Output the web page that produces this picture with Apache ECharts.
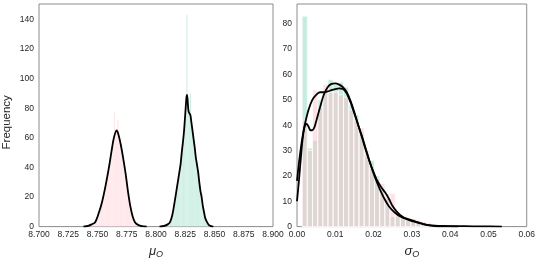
<!DOCTYPE html>
<html><head><meta charset="utf-8">
<script src="https://cdn.jsdelivr.net/npm/echarts@6/dist/echarts.min.js"></script>
<style>html,body{margin:0;padding:0;background:#fff}#c{width:538px;height:264px}</style>
</head><body><div id="c"></div>
<script>
// ---------- Left panel (mu_O) ----------
const muTicks = [8.700, 8.725, 8.750, 8.775, 8.800, 8.825, 8.850, 8.875, 8.900];
const muBinWidth = 0.001;
const muPinkBinStarts = [8.744,8.745,8.746,8.747,8.748,8.749,8.750,8.751,8.752,8.753,8.754,8.755,8.756,8.757,8.758,8.759,8.760,8.761,8.762,8.763,8.764,8.765,8.766,8.767,8.768,8.769,8.770,8.771,8.772,8.773,8.774,8.775,8.776,8.777,8.778,8.779,8.780,8.781,8.782,8.783,8.784,8.785];
const muPinkCounts    = [1,1,2,3,4,6,8,10,13,16,20,23,27,33,37,41,45,50,54,60,77,66,64,72,58,55,50,46,43,38,31,26,20,16,11,8,5,3,2,1,1,0.5];
const muGreenBinStarts = [8.809,8.810,8.811,8.812,8.813,8.814,8.815,8.816,8.817,8.818,8.819,8.820,8.821,8.822,8.823,8.824,8.825,8.826,8.827,8.828,8.829,8.830,8.831,8.832,8.833,8.834,8.835,8.836,8.837,8.838,8.839,8.840,8.841,8.842,8.843,8.844,8.845];
const muGreenCounts    = [1,2,2,4,6,9,13,18,23,29,34,39,46,53,60,70,80,143,82,76,90,70,63,58,51,45,40,34,28,22,18,13,9,6,4,2,1];
const muPinkKdeX = [8.738,8.742,8.745,8.748,8.751,8.754,8.757,8.760,8.762,8.764,8.7664,8.768,8.770,8.772,8.774,8.776,8.778,8.780,8.782,8.785,8.788,8.792];
const muPinkKdeY = [0,0.5,1.5,3,9,17,28,41,51,60,65,62,55,46,36,24,14,7,3,1,0.3,0];
const muGreenKdeX = [8.803,8.807,8.810,8.812,8.814,8.816,8.818,8.820,8.821,8.822,8.823,8.824,8.825,8.826,8.8265,8.827,8.8278,8.829,8.8295,8.830,8.831,8.832,8.833,8.834,8.835,8.836,8.837,8.838,8.839,8.840,8.841,8.842,8.843,8.844,8.845,8.847,8.849];
const muGreenKdeY = [0,0.5,1.5,3,8,17,27,37,42,50,57,65,76,87,89,86,78,76,75,72,66,60,54,47,42,37,30,24,20,14,10,6,4,2.5,1.2,0.3,0];

// ---------- Right panel (sigma_O) ----------
const sigTicks = [0.00, 0.01, 0.02, 0.03, 0.04, 0.05, 0.06];
const sigBinWidth = 0.00135;
const sigBinStarts = [0.00135,0.0027,0.00405,0.0054,0.00675,0.0081,0.00945,0.0108,0.01215,0.0135,0.01485,0.0162,0.01755,0.0189,0.02025,0.0216,0.02295,0.0243,0.02565,0.027,0.02835,0.0297,0.03105,0.0324,0.03375,0.0351];
const sigGreenCounts = [83,31,34,50,53,58,56,57,55,48,44,37,28,26,20,15,11,4,4,4,3,3,2,1.5,1,0.5];
const sigPinkCounts  = [42,30,54,47,56,53,53,52,51,46,42,39,30,23,19,17,13,13,5,4,3,3,2.5,2,1.5,1];
const sigGreenKdeX = [0,0.0005,0.001,0.0015,0.002,0.0025,0.003,0.0035,0.004,0.0045,0.005,0.006,0.007,0.008,0.009,0.010,0.011,0.012,0.013,0.014,0.015,0.016,0.017,0.018,0.019,0.020,0.021,0.022,0.023,0.024,0.025,0.026,0.027,0.028,0.029,0.030,0.031,0.032,0.033,0.034,0.036,0.038,0.042];
const sigGreenKdeY = [10,18,27,35,39.5,40.5,39.5,38,38,39,41.5,47,52,55,56.3,56.5,56,55,53,49.5,45,40,35,30,25.5,21.5,18,15.5,13.5,11,8,6,4.5,3.5,3,2.5,2,1.5,1,0.6,0.2,0.1,0];
const sigPinkKdeX = [0,0.0005,0.001,0.0015,0.002,0.003,0.004,0.005,0.006,0.007,0.008,0.009,0.010,0.011,0.012,0.013,0.014,0.015,0.016,0.017,0.018,0.019,0.020,0.021,0.022,0.023,0.024,0.025,0.026,0.027,0.028,0.029,0.030,0.031,0.032,0.033,0.034,0.036,0.038,0.040,0.044,0.048,0.0535];
const sigPinkKdeY = [18,25,31,36,40,46,50,52,53,53,53.3,53.8,54.2,54.5,54.3,52.5,49,44.5,40,35.5,30.5,25.5,21,17,13.5,10.5,8,6.3,5,4,3.3,2.7,2.2,1.8,1.4,1,0.7,0.4,0.25,0.2,0.15,0.1,0];

const PINK = 'rgba(255,185,196,0.42)';
const GREEN = 'rgba(102,205,170,0.38)';
const FONT = "'Liberation Sans', Arial, sans-serif";

function hist(starts, width, counts){ return starts.map((s,i)=>[s, s+width, counts[i]]); }
function pairs(xs, ys){ return xs.map((x,i)=>[x, ys[i]]); }
function histSeries(idx, data, fill, lw){
  return {type:'custom', xAxisIndex:idx, yAxisIndex:idx, z:2, silent:true,
    encode:{x:[0,1], y:2}, data:data,
    renderItem:function(params, api){
      const p0 = api.coord([api.value(0), api.value(2)]);
      const p1 = api.coord([api.value(1), 0]);
      return {type:'rect', shape:{x:p0[0], y:p0[1], width:p1[0]-p0[0], height:p1[1]-p0[1]},
        style:{fill:fill, stroke:'#ffffff', lineWidth:lw}};
    }};
}
function kde(idx, data){
  return {type:'line', xAxisIndex:idx, yAxisIndex:idx, z:3, data:data, showSymbol:false, smooth:0.3,
    lineStyle:{color:'#000', width:1.8}, silent:true};
}
function nameRich(){
  return {a:{fontSize:13, fontStyle:'italic', fontFamily:FONT, color:'#262626'},
          b:{fontSize:9, fontStyle:'italic', fontFamily:FONT, color:'#262626', padding:[7,0,0,0]}};
}
const lab = {fontSize:8.5, color:'#262626', fontFamily:FONT};
const chart = echarts.init(document.getElementById('c'), null, {renderer:'canvas'});
chart.setOption({
  animation:false,
  grid:[
    {left:34, top:4, width:239, height:232, show:true, borderColor:'#8c8c8c', borderWidth:1, backgroundColor:'transparent'},
    {left:297, top:4, width:237, height:232, show:true, borderColor:'#8c8c8c', borderWidth:1, backgroundColor:'transparent'}
  ],
  xAxis:[
    {type:'value', gridIndex:0, min:muTicks[0], max:muTicks[muTicks.length-1], interval:0.025,
     axisLine:{show:false}, axisTick:{show:false}, splitLine:{show:false},
     axisLabel:Object.assign({margin:4, formatter:v=>v.toFixed(3)}, lab),
     name:'{a|μ}{b|O}', nameLocation:'middle', nameGap:13, nameTextStyle:{rich:nameRich()}},
    {type:'value', gridIndex:1, min:sigTicks[0], max:sigTicks[sigTicks.length-1], interval:0.01,
     axisLine:{show:false}, axisTick:{show:false}, splitLine:{show:false},
     axisLabel:Object.assign({margin:4, formatter:v=>v.toFixed(2)}, lab),
     name:'{a|σ}{b|O}', nameLocation:'middle', nameGap:13, nameTextStyle:{rich:nameRich()}}
  ],
  yAxis:[
    {type:'value', gridIndex:0, min:0, max:150.5, interval:20,
     axisLine:{show:false}, axisTick:{show:false}, splitLine:{show:false},
     axisLabel:Object.assign({margin:5, formatter:v=>(Math.abs(v/20-Math.round(v/20))<1e-6?String(Math.round(v)):'')}, lab),
     name:'Frequency', nameLocation:'middle', nameGap:26, nameRotate:90,
     nameTextStyle:{fontSize:11.5, color:'#262626', fontFamily:FONT, padding:[0,14,0,0]}},
    {type:'value', gridIndex:1, min:0, max:87.8, interval:10,
     axisLine:{show:false}, axisTick:{show:false}, splitLine:{show:false},
     axisLabel:Object.assign({margin:5, formatter:v=>(Math.abs(v/10-Math.round(v/10))<1e-6?String(Math.round(v)):'')}, lab)}
  ],
  series:[
    histSeries(0, hist(muGreenBinStarts, muBinWidth, muGreenCounts), GREEN, 0.2),
    histSeries(0, hist(muPinkBinStarts, muBinWidth, muPinkCounts), PINK, 0.2),
    kde(0, pairs(muPinkKdeX, muPinkKdeY)),
    kde(0, pairs(muGreenKdeX, muGreenKdeY)),
    histSeries(1, hist(sigBinStarts, sigBinWidth, sigGreenCounts), GREEN, 0.7),
    histSeries(1, hist(sigBinStarts, sigBinWidth, sigPinkCounts), PINK, 0.7),
    kde(1, pairs(sigGreenKdeX, sigGreenKdeY)),
    kde(1, pairs(sigPinkKdeX, sigPinkKdeY))
  ]
});
</script></body></html>
